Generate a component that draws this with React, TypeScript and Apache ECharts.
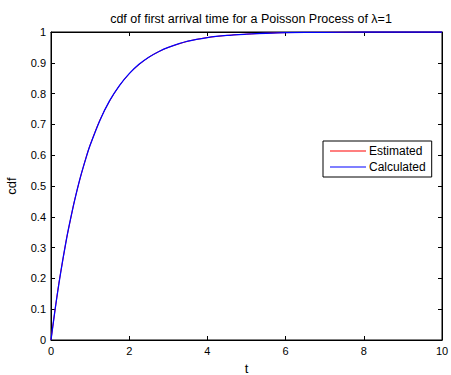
import React, { useEffect, useRef } from "react";
import * as echarts from "echarts";

const titleText = "cdf of first arrival time for a Poisson Process of λ=1";
const seriesNames = ["Estimated", "Calculated"];
const tValues = [0, 0.1, 0.2, 0.3, 0.4, 0.5, 0.6, 0.75, 0.9, 1, 1.25, 1.5, 1.75, 2, 2.25, 2.5, 2.75, 3, 3.5, 4, 4.5, 5, 5.5, 6, 7, 8, 9, 10];
const estimatedValues = [0, 0.094, 0.183, 0.258, 0.331, 0.392, 0.452, 0.527, 0.594, 0.633, 0.714, 0.776, 0.826, 0.864, 0.894, 0.918, 0.936, 0.950, 0.970, 0.982, 0.989, 0.993, 0.996, 0.998, 0.999, 1.0, 1.0, 1.0];
const calculatedValues = [0, 0.095, 0.181, 0.259, 0.330, 0.393, 0.451, 0.528, 0.593, 0.632, 0.713, 0.777, 0.826, 0.865, 0.895, 0.918, 0.936, 0.950, 0.970, 0.982, 0.989, 0.993, 0.996, 0.998, 0.999, 1.0, 1.0, 1.0];
const xTicks = { min: 0, max: 10, interval: 2 };
const yTicks = { min: 0, max: 1, interval: 0.1 };

export default function App() {
  const ref = useRef<HTMLDivElement>(null);
  useEffect(() => {
    if (!ref.current) return;
    const chart = echarts.init(ref.current, undefined, { renderer: "svg" });
    const font = "Liberation Sans, Arial, Helvetica, sans-serif";
    const axisLine = { show: true, onZero: false, lineStyle: { color: "#000", width: 1 } };
    const tick = { show: true, inside: true, length: 4, lineStyle: { color: "#000", width: 1 } };
    chart.setOption({
      animation: false,
      backgroundColor: "#fff",
      textStyle: { fontFamily: font },
      title: {
        text: titleText,
        left: 246,
        textAlign: "center",
        top: 7,
        textStyle: { fontSize: 12.5, fontWeight: "normal", color: "#000", fontFamily: font },
      },
      grid: {
        left: 51,
        right: 9,
        top: 32,
        bottom: 35,
        show: true,
        borderColor: "#000",
        borderWidth: 1,
        containLabel: false,
        outerBoundsMode: "none",
      },
      legend: {
        orient: "vertical",
        left: 323,
        top: 141,
        width: 107,
        padding: [4, 6, 4, 7],
        itemGap: 4,
        itemWidth: 36,
        itemHeight: 1,
        icon: "rect",
        borderColor: "#000",
        borderWidth: 1,
        backgroundColor: "#fff",
        textStyle: { fontSize: 12, color: "#000", fontFamily: font, padding: [0, 0, 0, -2] },
        data: seriesNames,
      },
      xAxis: [
        {
          type: "value",
          ...xTicks,
          axisLine,
          axisTick: tick,
          splitLine: { show: false },
          name: "t",
          nameLocation: "middle",
          nameGap: 22,
          nameTextStyle: { fontSize: 13, color: "#000" },
          axisLabel: { fontSize: 11, color: "#000", margin: 5 },
        },
        {
          type: "value",
          position: "top",
          ...xTicks,
          axisLine,
          axisTick: tick,
          splitLine: { show: false },
          axisLabel: { show: false },
        },
      ],
      yAxis: [
        {
          type: "value",
          ...yTicks,
          axisLine,
          axisTick: tick,
          splitLine: { show: false },
          name: "cdf",
          nameLocation: "middle",
          nameGap: 33,
          nameTextStyle: { fontSize: 13, color: "#000" },
          axisLabel: { fontSize: 11, color: "#000", margin: 5 },
        },
        {
          type: "value",
          position: "right",
          ...yTicks,
          axisLine,
          axisTick: tick,
          splitLine: { show: false },
          axisLabel: { show: false },
        },
      ],
      series: [
        {
          name: seriesNames[0],
          type: "line",
          data: tValues.map((t, i) => [t, estimatedValues[i]]),
          smooth: 0.3,
          showSymbol: false,
          lineStyle: { color: "#ff0000", width: 1 },
          itemStyle: { color: "#ff0000" },
          xAxisIndex: 0,
          yAxisIndex: 0,
        },
        {
          name: seriesNames[1],
          type: "line",
          data: tValues.map((t, i) => [t, calculatedValues[i]]),
          smooth: 0.3,
          showSymbol: false,
          lineStyle: { color: "#0000ff", width: 1.3 },
          itemStyle: { color: "#0000ff" },
          xAxisIndex: 0,
          yAxisIndex: 0,
        },
      ],
    });
    return () => chart.dispose();
  }, []);
  return <div ref={ref} style={{ position: "fixed", left: 0, top: 0, width: 451, height: 375 }} />;
}
